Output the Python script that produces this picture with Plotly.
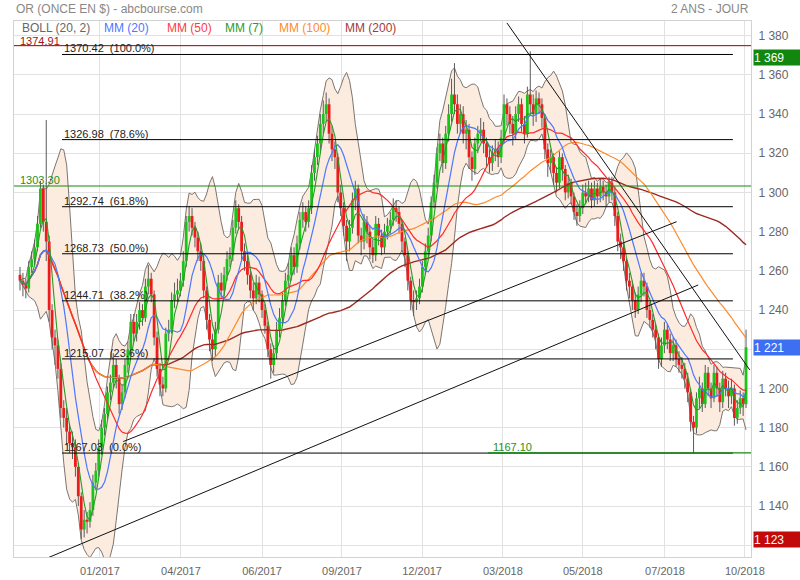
import numpy as np
import pandas as pd
import plotly.graph_objects as go

# ---------------- data (2-trading-day candles, Oct 2016 -> Oct 2018) ----------------
closes = [
    1255,1253,1251,1262,1266,1272,1284,1302,1285,1275,
    1240,1226,1222,1210,1190,1185,1178,1172,1170,1160,
    1145,1128,1133,1132,1138,1152,1158,1170,1180,1187,
    1198,1203,1212,1205,1192,1198,1212,1220,1234,1228,
    1234,1240,1236,1252,1256,1248,1226,1210,1202,1200,
    1228,1230,1245,1248,1250,1255,1265,1285,1288,1282,
    1277,1270,1265,1250,1235,1225,1220,1230,1254,1250,
    1258,1266,1268,1282,1292,1285,1270,1265,1258,1250,
    1246,1254,1248,1240,1232,1220,1212,1218,1230,1236,
    1245,1255,1258,1268,1262,1274,1286,1290,1285,1292,
    1310,1318,1325,1335,1340,1345,1330,1322,1318,1300,
    1292,1283,1275,1282,1296,1302,1278,1275,1285,1280,
    1272,1268,1284,1278,1272,1280,1283,1286,1292,1290,
    1284,1275,1268,1255,1245,1244,1246,1252,1262,1270,
    1278,1295,1305,1320,1325,1315,1330,1340,1350,1345,
    1335,1340,1330,1332,1318,1312,1325,1330,1332,1325,
    1318,1315,1320,1322,1318,1328,1345,1340,1335,1330,
    1340,1345,1335,1330,1350,1345,1340,1348,1345,1338,
    1322,1315,1318,1310,1305,1318,1312,1300,1305,1298,
    1290,1288,1292,1300,1298,1302,1296,1302,1298,1303,
    1300,1298,1305,1300,1288,1275,1272,1265,1255,1252,
    1245,1240,1248,1255,1252,1240,1235,1230,1226,1215,
    1222,1230,1225,1218,1222,1215,1212,1210,1205,1198,
    1183,1180,1195,1200,1192,1208,1200,1195,1208,1200,
    1193,1205,1200,1196,1200,1185,1190,1195,1192,1221,
]
opens = [
    1258,1255,1253,1251,1262,1266,1272,1284,1302,1285,
    1275,1240,1226,1222,1210,1190,1185,1178,1172,1170,
    1160,1145,1128,1133,1132,1138,1152,1158,1170,1180,
    1187,1198,1203,1212,1205,1192,1198,1212,1220,1234,
    1228,1234,1240,1236,1252,1256,1248,1226,1210,1202,
    1200,1228,1230,1245,1248,1250,1255,1265,1285,1288,
    1282,1277,1270,1265,1250,1235,1225,1220,1230,1254,
    1250,1258,1266,1268,1282,1292,1285,1270,1265,1258,
    1250,1246,1254,1248,1240,1232,1220,1212,1218,1230,
    1236,1245,1255,1258,1268,1262,1274,1286,1290,1285,
    1292,1310,1318,1325,1335,1340,1345,1330,1322,1318,
    1300,1292,1283,1275,1282,1296,1302,1278,1275,1285,
    1280,1272,1268,1284,1278,1272,1280,1283,1286,1292,
    1290,1284,1275,1268,1255,1245,1244,1246,1252,1262,
    1270,1278,1295,1305,1320,1325,1315,1330,1340,1350,
    1345,1335,1340,1330,1332,1318,1312,1325,1330,1332,
    1325,1318,1315,1320,1322,1318,1328,1345,1340,1335,
    1330,1340,1345,1335,1330,1350,1345,1340,1348,1345,
    1338,1322,1315,1318,1310,1305,1318,1312,1300,1305,
    1298,1290,1288,1292,1300,1298,1302,1296,1302,1298,
    1303,1300,1298,1305,1300,1288,1275,1272,1265,1255,
    1252,1245,1240,1248,1255,1252,1240,1235,1230,1226,
    1215,1222,1230,1225,1218,1222,1215,1212,1210,1205,
    1198,1183,1180,1195,1200,1192,1208,1200,1195,1208,
    1200,1193,1205,1200,1196,1200,1185,1190,1195,1192,
]
highs = [
    1262,1259,1256,1265,1270,1276,1288,1306,1304,1337,
    1278,1243,1230,1225,1213,1194,1190,1182,1178,1174,
    1162,1147,1138,1137,1142,1156,1162,1174,1184,1190,
    1201,1207,1218,1215,1207,1202,1215,1224,1238,1238,
    1238,1244,1243,1256,1263,1259,1250,1229,1213,1206,
    1231,1235,1249,1254,1256,1259,1270,1288,1293,1292,
    1285,1280,1274,1268,1252,1238,1228,1234,1258,1259,
    1262,1270,1272,1286,1296,1294,1288,1274,1268,1261,
    1254,1258,1257,1250,1243,1234,1223,1222,1234,1241,
    1249,1259,1264,1272,1272,1278,1290,1295,1293,1296,
    1314,1322,1329,1340,1347,1351,1348,1334,1326,1320,
    1304,1295,1286,1286,1300,1306,1304,1282,1289,1288,
    1283,1276,1288,1287,1281,1284,1287,1290,1297,1296,
    1293,1286,1277,1270,1257,1250,1250,1256,1265,1274,
    1282,1298,1309,1323,1330,1328,1334,1345,1358,1366,
    1350,1345,1344,1337,1335,1321,1328,1334,1338,1336,
    1328,1322,1324,1327,1326,1332,1350,1348,1344,1339,
    1344,1349,1348,1339,1354,1372,1350,1352,1351,1348,
    1340,1325,1322,1320,1313,1321,1320,1314,1309,1307,
    1300,1294,1296,1304,1305,1306,1305,1306,1305,1307,
    1306,1304,1308,1308,1303,1290,1279,1275,1267,1259,
    1255,1249,1252,1259,1259,1254,1244,1238,1233,1228,
    1226,1234,1233,1228,1226,1225,1219,1216,1213,1208,
    1200,1186,1198,1206,1203,1212,1211,1203,1212,1211,
    1203,1209,1208,1204,1205,1202,1194,1199,1198,1230,
]
lows = [
    1250,1247,1246,1249,1259,1263,1270,1282,1280,1265,
    1234,1220,1212,1205,1185,1180,1171,1167,1164,1155,
    1140,1123.2,1124,1126,1129,1135,1148,1155,1166,1176,
    1184,1194,1200,1200,1187,1189,1195,1208,1217,1224,
    1224,1230,1232,1234,1248,1244,1222,1206,1196,1196,
    1198,1224,1228,1241,1244,1247,1252,1262,1280,1278,
    1272,1265,1260,1246,1230,1219,1214,1216,1228,1246,
    1247,1255,1262,1265,1279,1281,1265,1260,1253,1246,
    1240,1243,1244,1236,1228,1216,1205,1208,1215,1226,
    1232,1242,1252,1255,1258,1259,1271,1282,1280,1282,
    1289,1306,1314,1320,1330,1336,1325,1316,1312,1295,
    1288,1278,1265,1270,1279,1291,1274,1268,1271,1274,
    1266,1264,1265,1273,1268,1269,1276,1279,1283,1285,
    1279,1270,1262,1250,1240,1237,1240,1243,1249,1258,
    1266,1275,1292,1302,1316,1310,1312,1326,1336,1340,
    1330,1330,1325,1322,1312,1306,1309,1320,1326,1320,
    1313,1310,1311,1316,1313,1315,1325,1334,1330,1324,
    1327,1336,1331,1325,1328,1340,1334,1336,1340,1333,
    1317,1308,1310,1304,1300,1302,1306,1296,1297,1294,
    1286,1283,1285,1289,1294,1295,1292,1293,1294,1295,
    1296,1293,1295,1296,1283,1270,1266,1260,1250,1246,
    1240,1236,1238,1244,1247,1236,1231,1226,1220,1210,
    1211,1218,1220,1214,1214,1211,1208,1205,1200,1193,
    1178,1167.1,1177,1190,1188,1190,1196,1190,1193,1196,
    1188,1190,1196,1190,1192,1181,1182,1187,1186,1190,
]

tick_pos = [27.4, 55.2, 83.0, 110.4, 137.9, 165.6, 193.0, 221.2, 248.6]
tick_labels = ["01/2017", "04/2017", "06/2017", "09/2017", "12/2017",
               "03/2018", "05/2018", "07/2018", "10/2018"]

fib_levels = [1370.42, 1326.98, 1292.74, 1268.73, 1244.71, 1215.07, 1167.03]
fib_pcts = ["100.0%", "78.6%", "61.8%", "50.0%", "38.2%", "23.6%", "0.0%"]

level_red = 1374.91
level_green = 1303.30
level_low = 1167.10

# trend lines: (bar index, price) pairs
trend_down = ([167.0, 250.3], [1386.5, 1209.4])
trend_low = ([8.6, 232.6], [1113.0, 1252.8])
trend_up = ([35.4, 225.2], [1172.9, 1285.1])

box_values = [1369, 1221, 1123]
box_colors = ["#11870f", "#3d6ff2", "#c20a0a"]

legend_items = ["BOLL (20, 2)", "MM (20)", "MM (50)", "MM (7)", "MM (100)", "MM (200)"]
legend_colors = ["#666666", "#4a78ff", "#ff3b3b", "#2e9a2e", "#ff8a2a", "#a83838"]
legend_px = [20, 102, 165, 223, 277, 343]

# ---------------- derived indicators ----------------
idx = np.arange(len(closes))
s = pd.Series(closes, dtype=float)
def ma(n):
    return s.rolling(n, min_periods=1).mean()
mm20, mm50, mm7, mm100, mm200 = ma(10), ma(25), ma(4), ma(50), ma(100)
sd = s.rolling(10, min_periods=1).std(ddof=0)
bb_up = mm20 + 2 * sd
bb_lo = mm20 - 2 * sd

X0, X1 = -2.06, 250.7
Y0, Y1 = 1114, 1387.5
L, R, T, B = 14, 49, 21, 23
PW = 800 - L - R

fig = go.Figure()

# Bollinger band
fig.add_trace(go.Scatter(x=idx, y=bb_lo, mode="lines",
                         line=dict(color="#7b7570", width=1), hoverinfo="skip"))
fig.add_trace(go.Scatter(x=idx, y=bb_up, mode="lines", fill="tonexty",
                         fillcolor="#fcebdf",
                         line=dict(color="#7b7570", width=1), hoverinfo="skip"))

# wicks
wx, wy = [], []
for i in idx:
    wx += [i, i, None]
    wy += [lows[i], highs[i], None]
fig.add_trace(go.Scatter(x=wx, y=wy, mode="lines",
                         line=dict(color="#5a5a5a", width=1), hoverinfo="skip"))

# bodies (thick segments from open to close)
for up_side, col in [(True, "#19c519"), (False, "#ec1c1c")]:
    bx, by = [], []
    for i in idx:
        oo, cc = opens[i], closes[i]
        if (cc >= oo) == up_side:
            lo_, hi_ = min(oo, cc), max(oo, cc)
            if hi_ - lo_ < 0.8:
                hi_ = lo_ + 0.8
            bx += [i, i, None]
            by += [lo_, hi_, None]
    fig.add_trace(go.Scatter(x=bx, y=by, mode="lines",
                             line=dict(color=col, width=2.8), hoverinfo="skip"))

# moving averages
for ser, col, w in [(mm200, "#9c2a22", 1.4), (mm100, "#ff8a2a", 1.2),
                    (mm50, "#ff2a2a", 1.2), (mm20, "#4a78ff", 1.2),
                    (mm7, "#279a27", 1.1)]:
    fig.add_trace(go.Scatter(x=idx, y=ser, mode="lines",
                             line=dict(color=col, width=w), hoverinfo="skip"))

# trend lines
for tx, ty in [trend_down, trend_low, trend_up]:
    fig.add_trace(go.Scatter(x=tx, y=ty, mode="lines",
                             line=dict(color="#111111", width=1), hoverinfo="skip"))

shapes = []
annotations = []
fib_x0 = 14.4
fib_x1 = 244.5
for lvl, pct in zip(fib_levels, fib_pcts):
    shapes.append(dict(type="line", xref="x", yref="y", x0=fib_x0, x1=fib_x1,
                       y0=lvl, y1=lvl, line=dict(color="#000000", width=1), layer="above"))
    annotations.append(dict(xref="x", yref="y", x=fib_x0, y=lvl, xanchor="left",
                            yanchor="bottom", yshift=-2, showarrow=False,
                            text=f"{lvl:.2f}\u00a0\u00a0({pct})",
                            font=dict(size=11, color="#222222")))

shapes.append(dict(type="line", xref="paper", yref="y", x0=0, x1=1, y0=level_red,
                   y1=level_red, line=dict(color="#9a0000", width=1), layer="above"))
shapes.append(dict(type="line", xref="paper", yref="y", x0=0, x1=1, y0=level_green,
                   y1=level_green, line=dict(color="#108a10", width=1), layer="above"))
shapes.append(dict(type="line", xref="x", yref="y", x0=160.5, x1=X1, y0=level_low,
                   y1=level_low, line=dict(color="#108a10", width=1.2), layer="above"))

annotations.append(dict(xref="paper", yref="y", x=4 / PW, y=level_red, xanchor="left",
                        yanchor="bottom", yshift=-3, showarrow=False,
                        text=f"{level_red:.2f}", font=dict(size=11, color="#a01515")))
annotations.append(dict(xref="paper", yref="y", x=4 / PW, y=level_green, xanchor="left",
                        yanchor="bottom", yshift=-2, showarrow=False,
                        text=f"{level_green:.2f}", font=dict(size=11, color="#1f8f1f")))
annotations.append(dict(xref="x", yref="y", x=161.5, y=level_low, xanchor="left",
                        yanchor="bottom", yshift=-2, showarrow=False,
                        text=f"{level_low:.2f}", font=dict(size=11, color="#1f8f1f")))

# legend row
for txt, col, px in zip(legend_items, legend_colors, legend_px):
    annotations.append(dict(xref="paper", yref="paper", x=(px - L) / PW, y=1,
                            xanchor="left", yanchor="middle", yshift=-7,
                            showarrow=False, text=txt, font=dict(size=12, color=col)))

# title and period
annotations.append(dict(xref="paper", yref="paper", x=0, y=1, xanchor="left",
                        yanchor="bottom", yshift=3, showarrow=False,
                        text="OR (ONCE EN $) - abcbourse.com",
                        font=dict(size=12, color="#888888")))
annotations.append(dict(xref="paper", yref="paper", x=1, y=1, xanchor="right",
                        yanchor="bottom", yshift=3, showarrow=False,
                        text="2 ANS - JOUR", font=dict(size=12, color="#888888")))

# right price boxes
for v, col in zip(box_values, box_colors):
    annotations.append(dict(xref="paper", yref="y", x=1, y=v, xanchor="left",
                            yanchor="middle", xshift=2, showarrow=False,
                            text=f"{v:,}".replace(",", " "), bgcolor=col,
                            width=46, height=15, align="left", borderpad=0,
                            font=dict(size=12, color="#ffffff")))

yt = list(range(1120, 1381, 20))
hidden = [1120, 1220]  # covered by the price boxes
ytext = ["" if v in hidden else f"{v:,}".replace(",", " ") for v in yt]

fig.update_layout(
    width=800, height=580,
    margin=dict(l=L, r=R, t=T, b=B, autoexpand=False),
    paper_bgcolor="white", plot_bgcolor="white",
    font=dict(family="Liberation Sans, Arial, sans-serif"),
    showlegend=False, hovermode=False,
    shapes=shapes, annotations=annotations,
    xaxis=dict(range=[X0, X1], tickvals=tick_pos, ticktext=tick_labels,
               showgrid=True, gridcolor="#e2e2e2", gridwidth=1, zeroline=False,
               showline=True, linecolor="#d2d2d2", mirror=True, automargin=False,
               ticks="outside", ticklen=4, tickcolor="rgba(0,0,0,0)",
               tickfont=dict(size=11, color="#666666")),
    yaxis=dict(range=[Y0, Y1], side="right", tickvals=yt, ticktext=ytext,
               showgrid=True, gridcolor="#e2e2e2", gridwidth=1, zeroline=False,
               showline=True, linecolor="#d2d2d2", mirror=True, automargin=False,
               ticks="outside", ticklen=4, tickcolor="rgba(0,0,0,0)",
               tickfont=dict(size=12, color="#666666")),
)

fig.write_html("out.html", config={"displayModeBar": False},
               post_script="document.body.style.margin='0px';")
